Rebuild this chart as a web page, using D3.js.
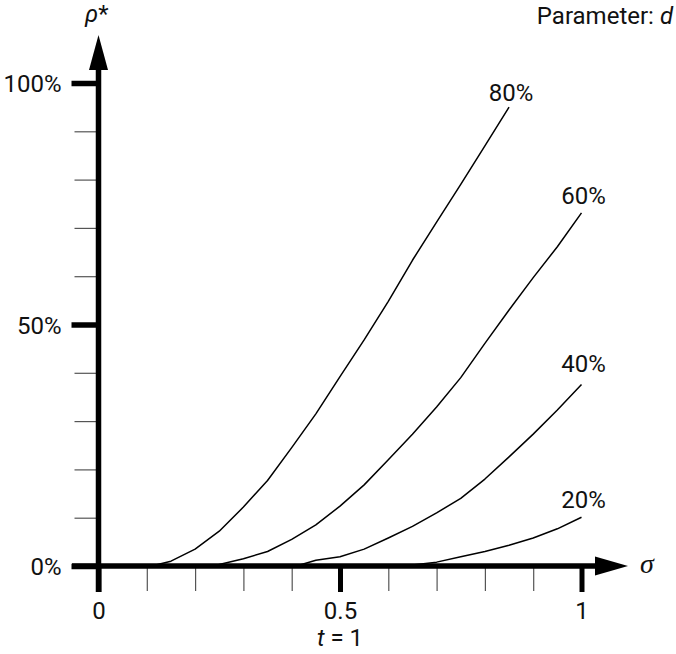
<!DOCTYPE html>
<html>
<head>
<meta charset="utf-8">
<script src="https://cdn.jsdelivr.net/npm/d3@7"></script>
<style>
  html, body { margin: 0; padding: 0; background: #fff; }
  svg { display: block; }
  .lbl { font-family: 'Liberation Sans Narrow', 'Arial Narrow', Roboto, sans-serif; fill: #111; }
</style>
</head>
<body>
<svg id="chart" width="676" height="654"></svg>
<script>
// ---- data ----
const sigma80 = [0.11, 0.15, 0.20, 0.25, 0.30, 0.35, 0.40, 0.45, 0.50, 0.55, 0.60, 0.65, 0.70, 0.75, 0.80, 0.85];
const rho80   = [0.000, 0.010, 0.035, 0.072, 0.122, 0.177, 0.245, 0.315, 0.392, 0.468, 0.548, 0.633, 0.712, 0.790, 0.870, 0.950];
const sigma60 = [0.24, 0.25, 0.30, 0.35, 0.40, 0.45, 0.50, 0.55, 0.60, 0.65, 0.70, 0.75, 0.80, 0.85, 0.90, 0.95, 1.00];
const rho60   = [0.000, 0.003, 0.015, 0.030, 0.055, 0.085, 0.124, 0.168, 0.220, 0.273, 0.329, 0.390, 0.461, 0.530, 0.597, 0.661, 0.731];
const sigma40 = [0.41, 0.45, 0.50, 0.55, 0.60, 0.65, 0.70, 0.75, 0.80, 0.85, 0.90, 0.95, 1.00];
const rho40   = [0.000, 0.012, 0.019, 0.035, 0.058, 0.082, 0.110, 0.140, 0.180, 0.226, 0.273, 0.323, 0.376];
const sigma20 = [0.64, 0.65, 0.70, 0.75, 0.80, 0.85, 0.90, 0.95, 1.00];
const rho20   = [0.000, 0.002, 0.008, 0.019, 0.030, 0.043, 0.058, 0.077, 0.101];
const seriesLabels = ["80%", "60%", "40%", "20%"];
const xMajorTicks = [0, 0.5, 1];
const xMajorLabels = ["0", "0.5", "1"];
const xMinorTicks = [0.1, 0.2, 0.3, 0.4, 0.6, 0.7, 0.8, 0.9];
const yMajorTicks = [0, 0.5, 1];
const yMajorLabels = ["0%", "50%", "100%"];
const yMinorTicks = [0.1, 0.2, 0.3, 0.4, 0.6, 0.7, 0.8, 0.9];

// ---- chart ----
const svg = d3.select("#chart");
const x = d3.scaleLinear().domain([0, 1]).range([98.5, 581.5]);
const y = d3.scaleLinear().domain([0, 1]).range([566, 83]);
const FS = 24;

const series = [
  {xs: sigma80, ys: rho80, label: seriesLabels[0], dy: -6},
  {xs: sigma60, ys: rho60, label: seriesLabels[1], dy: -9},
  {xs: sigma40, ys: rho40, label: seriesLabels[2], dy: -12},
  {xs: sigma20, ys: rho20, label: seriesLabels[3], dy: -9}
];

const line = d3.line().x(d => x(d[0])).y(d => y(d[1])).curve(d3.curveLinear);

// minor x ticks (below axis)
const gxMinor = svg.append("g").attr("transform", `translate(0,${y(0)})`)
  .call(d3.axisBottom(x).tickValues(xMinorTicks).tickSize(25).tickFormat(""));
gxMinor.select(".domain").remove();
gxMinor.selectAll(".tick line").attr("stroke", "#555").attr("stroke-width", 1.2);

// major x ticks
const gxMajor = svg.append("g").attr("transform", `translate(0,${y(0)})`)
  .call(d3.axisBottom(x).tickValues(xMajorTicks).tickSize(26)
    .tickFormat((d, i) => xMajorLabels[i]));
gxMajor.select(".domain").remove();
gxMajor.selectAll(".tick line").attr("stroke", "#000").attr("stroke-width", 5);
gxMajor.selectAll(".tick text")
  .attr("class", "lbl").attr("y", 53).attr("dy", null)
  .attr("font-size", FS).attr("font-family", null);

// minor y ticks
const gyMinor = svg.append("g").attr("transform", `translate(${x(0)},0)`)
  .call(d3.axisLeft(y).tickValues(yMinorTicks).tickSize(24).tickFormat(""));
gyMinor.select(".domain").remove();
gyMinor.selectAll(".tick line").attr("stroke", "#555").attr("stroke-width", 1.2);

// major y ticks
const gyMajor = svg.append("g").attr("transform", `translate(${x(0)},0)`)
  .call(d3.axisLeft(y).tickValues(yMajorTicks).tickSize(27)
    .tickFormat((d, i) => yMajorLabels[i]));
gyMajor.select(".domain").remove();
gyMajor.selectAll(".tick line").attr("stroke", "#000").attr("stroke-width", 5.5);
gyMajor.selectAll(".tick text")
  .attr("class", "lbl").attr("x", -37).attr("dy", "0.36em")
  .attr("font-size", FS).attr("font-family", null);

// curves
series.forEach(s => {
  const pts = s.xs.map((v, i) => [v, s.ys[i]]);
  svg.append("path").attr("d", line(pts))
    .attr("fill", "none").attr("stroke", "#000").attr("stroke-width", 1.5)
    .attr("stroke-linejoin", "round");
  const last = pts[pts.length - 1];
  svg.append("text").attr("class", "lbl")
    .attr("x", x(last[0]) + 2).attr("y", y(last[1]) + s.dy)
    .attr("text-anchor", "middle").attr("font-size", FS).text(s.label);
});

// axes lines
const x0 = x(0), y0 = y(0);
svg.append("line").attr("x1", 72).attr("x2", 600).attr("y1", y0).attr("y2", y0)
  .attr("stroke", "#000").attr("stroke-width", 5.5);
svg.append("line").attr("x1", x0).attr("x2", x0).attr("y1", 592).attr("y2", 65)
  .attr("stroke", "#000").attr("stroke-width", 5.5);
// arrows
svg.append("path").attr("d", `M${x0},35 L${x0 + 9.5},70 L${x0 - 9.5},70 Z`).attr("fill", "#000");
svg.append("path").attr("d", `M628,${y0} L595,${y0 - 9.5} L595,${y0 + 9.5} Z`).attr("fill", "#000");

// axis titles
svg.append("text").attr("x", 640).attr("y", 573)
  .attr("font-family", "'Liberation Serif', 'DejaVu Serif', serif")
  .attr("font-style", "italic").attr("font-size", 28).attr("fill", "#111").text("σ");

const rt = svg.append("text").attr("class", "lbl").attr("x", 85).attr("y", 22).attr("font-size", FS);
rt.append("tspan").attr("font-style", "italic").text("ρ");
rt.append("tspan").text("*");

const pt = svg.append("text").attr("class", "lbl").attr("x", 673).attr("y", 24)
  .attr("text-anchor", "end").attr("font-size", FS);
pt.append("tspan").text("Parameter: ");
pt.append("tspan").attr("font-style", "italic").text("d");

const tt = svg.append("text").attr("class", "lbl").attr("x", x(0.5)).attr("y", 646)
  .attr("text-anchor", "middle").attr("font-size", FS);
tt.append("tspan").attr("font-style", "italic").text("t");
tt.append("tspan").text(" = 1");
</script>
</body>
</html>
